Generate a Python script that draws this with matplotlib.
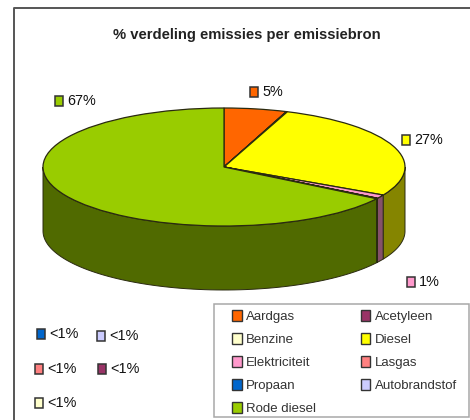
import numpy as np
import matplotlib
matplotlib.use('Agg')
import matplotlib.pyplot as plt
from matplotlib.colors import to_rgb
from matplotlib.patches import Rectangle

plt.rcParams['font.family'] = ['Liberation Sans', 'DejaVu Sans']

# slices, clockwise from the top
sources = ['Aardgas', 'Acetyleen', 'Benzine', 'Diesel', 'Elektriciteit',
           'Lasgas', 'Propaan', 'Autobrandstof', 'Rode diesel']
values = [5.6, 0.05, 0.05, 27.2, 1.0, 0.05, 0.05, 0.05, 66.0]
labels = ['5%', '<1%', '<1%', '27%', '1%', '<1%', '<1%', '<1%', '67%']
colors = ['#FF6600', '#993366', '#FFFFCC', '#FFFF00', '#FF99CC',
          '#FF8080', '#0066CC', '#CCCCFF', '#99CC00']
title = '% verdeling emissies per emissiebron'

W, H = 470, 420
cx, cy, rx, ry, depth = 224, 167, 181, 59, 64
edge = '#2a2a10'

fig = plt.figure(figsize=(W / 100, H / 100), dpi=100)
ax = fig.add_axes([0, 0, 1, 1])

# top of the pie; one data unit is rx pixels across and ry pixels down
wedges, _ = ax.pie(values, colors=colors, startangle=90, counterclock=False,
                   wedgeprops={'edgecolor': edge, 'linewidth': 0.9, 'zorder': 3})
ax.set_aspect('auto')
ax.set_xlim(-cx / rx, (W - cx) / rx)
ax.set_ylim(-(H - cy) / ry, cy / ry)
ax.axis('off')

# side wall, only the part facing the viewer
d = depth / ry
ends = 90 - np.cumsum(values) * 3.6
starts = np.r_[90, ends[:-1]]
for a, b, c in zip(starts, ends, colors):
    lo, hi = max(b, -180), min(a, 0)
    if hi <= lo:
        continue
    t = np.radians(np.linspace(hi, lo, 80))
    xs = np.r_[np.cos(t), np.cos(t[::-1])]
    ys = np.r_[np.sin(t), np.sin(t[::-1]) - d]
    ax.fill(xs, ys, color=np.array(to_rgb(c)) * 0.52, ec=edge, lw=0.7, zorder=2)

# overlay in pixel coordinates for frame, title and labels
ov = fig.add_axes([0, 0, 1, 1], facecolor='none')
ov.set_xlim(0, W)
ov.set_ylim(H, 0)
ov.axis('off')
ov.plot([13.5, 13.5, W], [H, 8, 8], color='#555555', lw=1.4)
ov.text(247, 35.5, title, ha='center', va='center', fontsize=10.6,
        fontweight='bold', color='#222222')

label_pos = {
    'Aardgas': (254, 92), 'Diesel': (406, 140), 'Elektriciteit': (411, 282),
    'Rode diesel': (59, 101), 'Propaan': (41, 334), 'Autobrandstof': (101, 336),
    'Lasgas': (39, 369), 'Acetyleen': (102, 369), 'Benzine': (39, 403),
}
for s, lab, c in zip(sources, labels, colors):
    x, y = label_pos[s]
    ov.add_patch(Rectangle((x - 4, y - 5), 8, 10, fc=c, ec='#333333', lw=1.1))
    ov.text(x + 8, y, lab, va='center', ha='left', fontsize=10.4, color='#111111')

# legend box runs to the right edge of the picture
ov.add_patch(Rectangle((214, 304), 255, 113, fc='white', ec='#a8a8a8', lw=1.1))

# legend is filled by column, the reference reads by row
order = [0, 2, 4, 6, 8, 1, 3, 5, 7]
handles = [Rectangle((0, 0), 1, 1, fc=colors[i], ec='#333333', lw=1.0) for i in order]
leg = ov.legend(handles, [sources[i] for i in order], ncol=2,
                loc='upper left', bbox_to_anchor=(232 / W, 1 - 310 / H),
                fontsize=9.5, frameon=False, labelcolor='#333333',
                handlelength=0.72, handleheight=0.85, handletextpad=0.32,
                columnspacing=3.43, labelspacing=0.78,
                borderaxespad=0, borderpad=0)

fig.savefig('out.png', dpi=100)
